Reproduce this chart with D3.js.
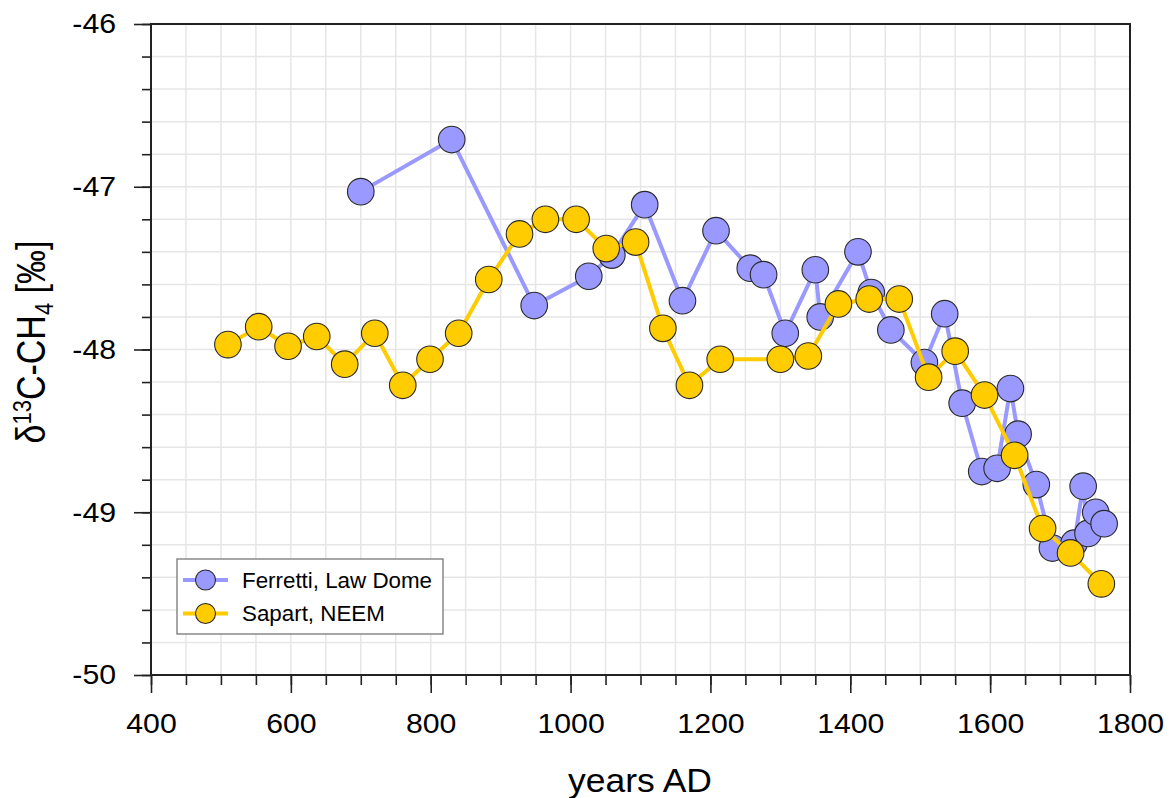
<!DOCTYPE html>
<html>
<head>
<meta charset="utf-8">
<script src="https://cdn.jsdelivr.net/npm/d3@7"></script>
<style>
  body { margin: 0; background: #fff; }
  text { font-family: "Liberation Sans", Arial, sans-serif; fill: #000; }
</style>
</head>
<body>
<script>
// Ferretti, Law Dome
var ferrettiYears  = [700, 830, 948, 1026, 1059, 1106, 1160, 1208, 1257, 1276, 1307, 1350, 1357, 1411, 1430,
                      1458, 1506, 1535, 1560, 1588, 1610, 1629, 1640, 1666, 1689, 1720, 1733, 1740, 1751, 1763];
var ferrettiValues = [-47.03, -46.71, -47.73, -47.55, -47.42, -47.11, -47.70, -47.27, -47.50, -47.54, -47.90, -47.51, -47.80, -47.40, -47.65,
                      -47.88, -48.08, -47.78, -48.33, -48.75, -48.73, -48.24, -48.52, -48.83, -49.22, -49.19, -48.84, -49.13, -49.00, -49.07];
// Sapart, NEEM
var sapartYears  = [510, 554, 596, 637, 677, 720, 760, 799, 840, 883, 927, 964, 1008, 1051, 1093,
                    1132, 1170, 1214, 1300, 1340, 1383, 1427, 1470, 1512, 1550, 1592, 1635, 1675, 1715, 1759];
var sapartValues = [-47.97, -47.86, -47.98, -47.92, -48.09, -47.90, -48.22, -48.06, -47.90, -47.57, -47.29, -47.20, -47.20, -47.38, -47.34,
                    -47.87, -48.22, -48.06, -48.06, -48.04, -47.72, -47.69, -47.69, -48.17, -48.01, -48.28, -48.65, -49.10, -49.25, -49.44];

var seriesNames = ['Ferretti, Law Dome', 'Sapart, NEEM'];
var seriesColors = ['#9999ff', '#ffcc00'];

var xMajor = [400, 600, 800, 1000, 1200, 1400, 1600, 1800];
var yMajor = [-50, -49, -48, -47, -46];

var W = 1173, H = 798;
var pLeft = 151, pTop = 24, pRight = 1130, pBottom = 675;
var stretch = 1.08;

var svg = d3.select('body').append('svg').attr('width', W).attr('height', H);

var x = d3.scaleLinear().domain([400, 1800]).range([pLeft, pRight]);
var y = d3.scaleLinear().domain([-50, -46]).range([pBottom, pTop]);

var xMinor = d3.range(400, 1801, 50);
var yMinor = d3.range(0, 21).map(function(i){ return -50 + i * 0.2; });

// grid
var grid = svg.append('g').attr('stroke', '#e6e6e6').attr('stroke-width', 1.5);
grid.selectAll('line.gx').data(xMinor).enter().append('line')
    .attr('x1', function(d){ return x(d); }).attr('x2', function(d){ return x(d); })
    .attr('y1', pTop).attr('y2', pBottom);
grid.selectAll('line.gy').data(yMinor).enter().append('line')
    .attr('y1', function(d){ return y(d); }).attr('y2', function(d){ return y(d); })
    .attr('x1', pLeft).attr('x2', pRight);

// axes
var xMinorAxis = svg.append('g').attr('transform', 'translate(0,' + pBottom + ')')
    .call(d3.axisBottom(x).tickValues(xMinor).tickSize(10).tickFormat(''));
var xAxis = svg.append('g').attr('transform', 'translate(0,' + pBottom + ')')
    .call(d3.axisBottom(x).tickValues(xMajor).tickSize(18).tickPadding(20).tickFormat(d3.format('d')));
var yMinorAxis = svg.append('g').attr('transform', 'translate(' + pLeft + ',0)')
    .call(d3.axisLeft(y).tickValues(yMinor).tickSize(9).tickFormat(''));
var yAxis = svg.append('g').attr('transform', 'translate(' + pLeft + ',0)')
    .call(d3.axisLeft(y).tickValues(yMajor).tickSize(17).tickFormat(d3.format('d')));

[xMinorAxis, xAxis, yMinorAxis, yAxis].forEach(function(a){
    a.select('.domain').remove();
    a.selectAll('.tick line').attr('stroke', '#222').attr('stroke-width', 1.6);
});
xAxis.selectAll('text').attr('font-size', 28).attr('font-family', '"Liberation Sans", Arial, sans-serif')
    .attr('transform', 'scale(' + stretch + ',1)');
yAxis.selectAll('text').attr('font-size', 28).attr('font-family', '"Liberation Sans", Arial, sans-serif')
    .attr('x', -35 / stretch).attr('transform', 'scale(' + stretch + ',1)')
    .text(function(d){ return '-' + Math.abs(d); });

// frame
svg.append('rect').attr('x', pLeft).attr('y', pTop).attr('width', pRight - pLeft).attr('height', pBottom - pTop)
    .attr('fill', 'none').attr('stroke', '#222').attr('stroke-width', 2);

// series
var allSeries = [
    ferrettiYears.map(function(d, i){ return {x: d, y: ferrettiValues[i]}; }),
    sapartYears.map(function(d, i){ return {x: d, y: sapartValues[i]}; })
];
var line = d3.line().x(function(d){ return x(d.x); }).y(function(d){ return y(d.y); });

allSeries.forEach(function(data, k){
    var g = svg.append('g');
    g.append('path').attr('d', line(data)).attr('fill', 'none')
        .attr('stroke', seriesColors[k]).attr('stroke-width', 4).attr('stroke-linejoin', 'round');
    g.selectAll('circle').data(data).enter().append('circle')
        .attr('cx', function(d){ return x(d.x); })
        .attr('cy', function(d){ return y(d.y); })
        .attr('r', 13.3)
        .attr('fill', seriesColors[k]).attr('stroke', '#2a2a2a').attr('stroke-width', 1.1);
});

// legend
var lg = svg.append('g');
lg.append('rect').attr('x', 177).attr('y', 559).attr('width', 266).attr('height', 75)
    .attr('fill', '#fff').attr('stroke', '#777').attr('stroke-width', 1.3);
seriesNames.forEach(function(name, k){
    var cy = 580 + k * 33.5;
    lg.append('line').attr('x1', 183).attr('x2', 228).attr('y1', cy).attr('y2', cy)
        .attr('stroke', seriesColors[k]).attr('stroke-width', 4);
    lg.append('circle').attr('cx', 205.5).attr('cy', cy).attr('r', 10)
        .attr('fill', seriesColors[k]).attr('stroke', '#2a2a2a').attr('stroke-width', 1.1);
    lg.append('text').attr('transform', 'translate(242,' + (cy + 7.5) + ') scale(1.04,1)')
        .attr('font-size', 21.5).text(name);
});

// axis titles
svg.append('text').attr('transform', 'translate(640,792) scale(1.06,1)')
    .attr('text-anchor', 'middle').attr('font-size', 33.5).text('years AD');

var yt = svg.append('text').attr('transform', 'translate(45,342) rotate(-90) scale(1,1.2)')
    .attr('text-anchor', 'middle').attr('font-size', 34);
yt.append('tspan').text('\u03b4');
yt.append('tspan').attr('font-size', 22).attr('dy', -12).text('13');
yt.append('tspan').attr('dy', 12).text('C-CH');
yt.append('tspan').attr('font-size', 22).attr('dy', 7).text('4');
yt.append('tspan').attr('dy', -7).text(' [\u2030]');
</script>
</body>
</html>
